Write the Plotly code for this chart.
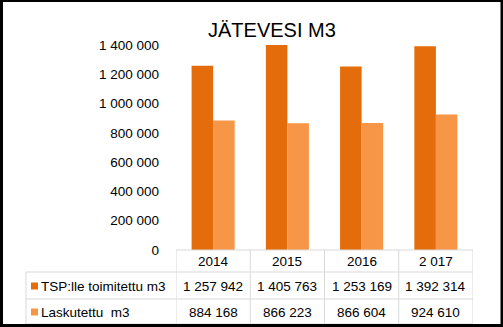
import plotly.graph_objects as go

# ---- data ----
categories = ["2014", "2015", "2016", "2 017"]
series_names = ["TSP:lle toimitettu m3", "Laskutettu  m3"]
toimitettu = [1257942, 1405763, 1253169, 1392314]
laskutettu = [884168, 866223, 866604, 924610]
title_text = "JÄTEVESI M3"
colors = ["#E46C0A", "#F79646"]

# ---- geometry helpers ----
FW, FH = 503, 327
L, R, T, B = 176, 30, 45, 77
PW, PH = FW - L - R, FH - T - B


def px(x):
    return (x - L) / PW


def py(y):
    return (FH - B - y) / PH


def fmt(v):
    return f"{v:,}".replace(",", " ")


fig = go.Figure()
for name, vals, col in zip(series_names, [toimitettu, laskutettu], colors):
    fig.add_trace(go.Bar(x=categories, y=vals, name=name, marker=dict(color=col, line=dict(width=0)),
                         showlegend=False))

FONT = "Liberation Sans, Arial, sans-serif"
grid = "#D9D9D9"
shapes = []
annotations = []

# table horizontal lines
shapes.append(dict(type="line", xref="paper", yref="paper", x0=0, x1=1, y0=py(250), y1=py(250),
                   line=dict(color=grid, width=1)))
for yy in [272, 299, 324]:
    shapes.append(dict(type="line", xref="paper", yref="paper", x0=px(26), x1=1, y0=py(yy), y1=py(yy),
                       line=dict(color=grid, width=1)))
# table vertical lines
shapes.append(dict(type="line", xref="paper", yref="paper", x0=px(26), x1=px(26), y0=py(272), y1=py(324),
                   line=dict(color=grid, width=1)))
for i in range(len(categories) + 1):
    shapes.append(dict(type="line", xref="x", yref="paper", x0=i - 0.5, x1=i - 0.5, y0=py(250), y1=py(324),
                       line=dict(color=grid, width=1)))

# table text (x given as category index on the categorical axis)
row_y = [261, 286, 312]
tfont = dict(size=13.5, color="#000000", family=FONT)
for i, c in enumerate(categories):
    for ry, txt in zip(row_y, [c, fmt(toimitettu[i]), fmt(laskutettu[i])]):
        annotations.append(dict(x=i, y=py(ry), xref="x", yref="paper", text=txt, showarrow=False,
                                font=tfont, xanchor="center", yanchor="middle"))

# legend keys + names
for k, (name, col) in enumerate(zip(series_names, colors)):
    yc = row_y[k + 1]
    shapes.append(dict(type="rect", xref="paper", yref="paper", x0=px(31), x1=px(38), y0=py(yc - 3.5),
                       y1=py(yc + 3.5), fillcolor=col, line=dict(width=0)))
    annotations.append(dict(x=px(39), y=py(yc), xref="paper", yref="paper", text=name, showarrow=False,
                            font=tfont, xanchor="left", yanchor="middle"))

# title
annotations.append(dict(x=px(272), y=py(30), xref="paper", yref="paper", text=title_text, showarrow=False,
                        font=dict(size=20, color="#000000", family=FONT), xanchor="center", yanchor="middle"))

# black outer border
for (x0, x1, y0, y1) in [(0, 3, 0, 327), (500.5, 503, 0, 327), (0, 503, 0, 2), (0, 503, 324, 327)]:
    shapes.append(dict(type="rect", xref="paper", yref="paper", x0=px(x0), x1=px(x1), y0=py(y1), y1=py(y0),
                       fillcolor="#000000", line=dict(width=0), layer="above"))

fig.update_layout(
    width=FW, height=FH,
    margin=dict(l=L, r=R, t=T, b=B, pad=0),
    paper_bgcolor="white", plot_bgcolor="white",
    barmode="group", bargap=0.42, bargroupgap=0,
    separators=", ",
    font=dict(family=FONT, size=13, color="#000000"),
    shapes=shapes, annotations=annotations,
    xaxis=dict(showticklabels=False, showgrid=False, zeroline=False, showline=False, ticks="",
               range=[-0.5, 3.5], fixedrange=True),
    yaxis=dict(range=[0, 1400000], tickvals=[0, 200000, 400000, 600000, 800000, 1000000, 1200000, 1400000],
               tickformat=",d", showgrid=False, zeroline=False, showline=False, ticks="",
               ticklabelstandoff=16, tickfont=dict(size=13.5, color="#000000", family=FONT), fixedrange=True),
)

fig.write_html("out.html")
